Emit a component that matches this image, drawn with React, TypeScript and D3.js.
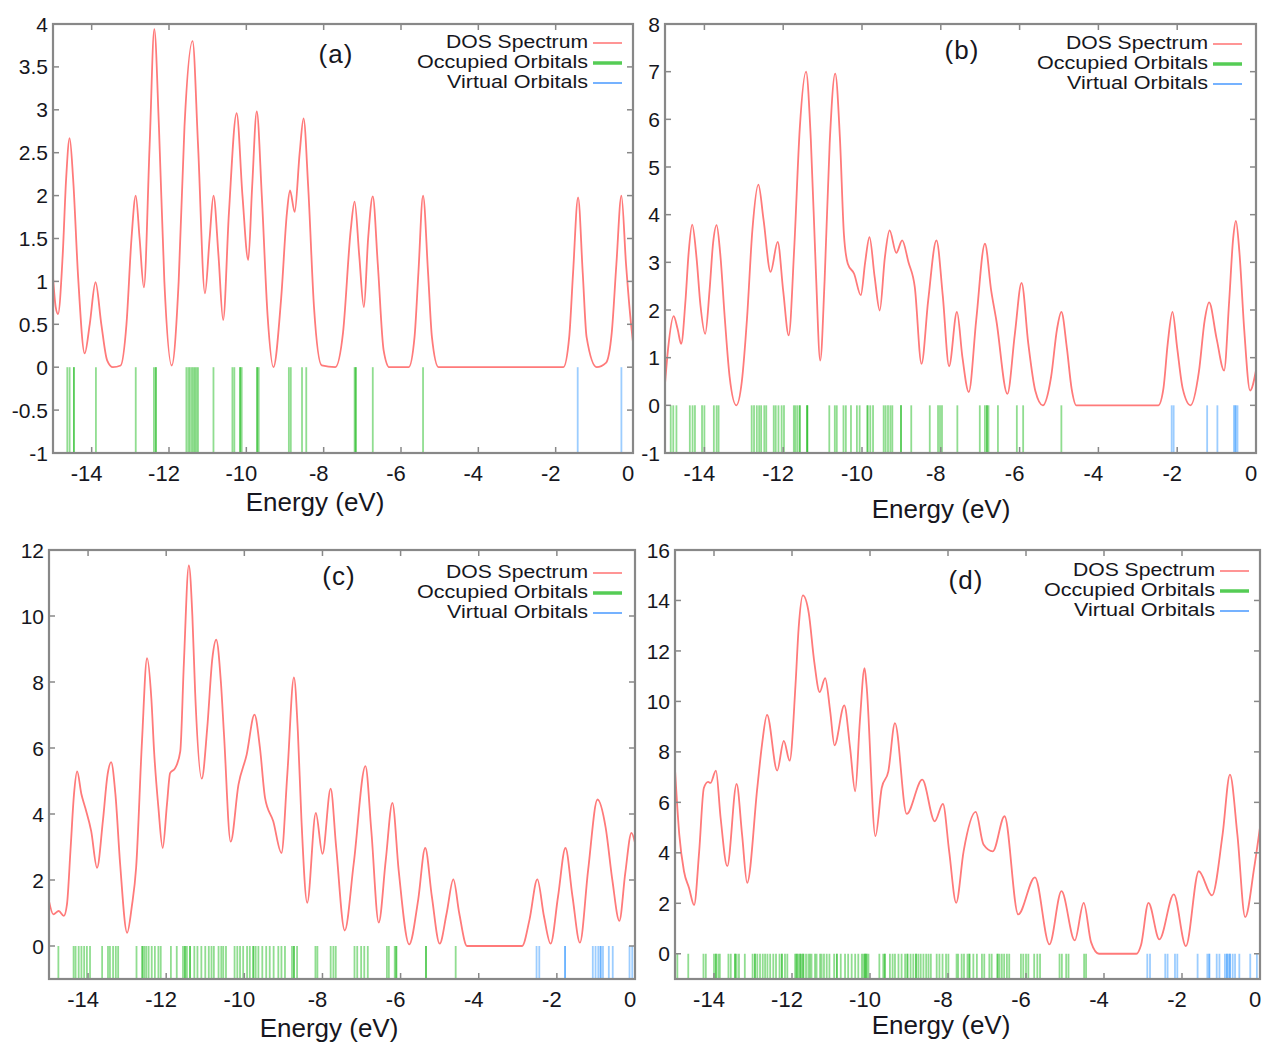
import React from "react";
import * as d3 from "d3";

// x ticks shared by every panel
const xTicks = [-14, -12, -10, -8, -6, -4, -2, 0];

// ---- panel (a)
const yTicksA = [-1, -0.5, 0, 0.5, 1, 1.5, 2, 2.5, 3, 3.5, 4];
const dosA = [
  [-15.0, 1.05], [-14.93, 0.7], [-14.87, 0.62], [-14.75, 1.3], [-14.66, 2.2], [-14.57, 2.67],
  [-14.48, 2.2], [-14.35, 1.05], [-14.18, 0.16], [-14.05, 0.5], [-13.9, 0.99], [-13.75, 0.5],
  [-13.6, 0.08], [-13.45, 0], [-13.25, 0.02], [-13.1, 0.5], [-12.97, 1.5], [-12.86, 2.0],
  [-12.76, 1.5], [-12.65, 0.93], [-12.5, 2.6], [-12.38, 3.94], [-12.26, 2.8], [-12.12, 1.0],
  [-11.93, 0.02], [-11.75, 1.0], [-11.6, 2.8], [-11.39, 3.8], [-11.25, 2.6], [-11.07, 0.86],
  [-10.95, 1.5], [-10.85, 2.0], [-10.72, 1.3], [-10.6, 0.55], [-10.45, 1.8], [-10.25, 2.96],
  [-10.1, 2.0], [-9.95, 1.25], [-9.85, 2.1], [-9.73, 2.98], [-9.6, 2.0], [-9.45, 0.6],
  [-9.3, 0.0], [-9.1, 0.8], [-8.95, 1.8], [-8.87, 2.06], [-8.75, 1.81], [-8.62, 2.5],
  [-8.52, 2.9], [-8.4, 2.1], [-8.25, 0.7], [-8.05, 0.02], [-7.7, 0], [-7.5, 0.4],
  [-7.3, 1.6], [-7.2, 1.93], [-7.08, 1.3], [-6.96, 0.7], [-6.85, 1.5], [-6.73, 1.99],
  [-6.6, 1.2], [-6.45, 0.2], [-6.3, 0], [-5.8, 0], [-5.65, 0.35], [-5.55, 1.1],
  [-5.43, 2.0], [-5.3, 1.1], [-5.2, 0.35], [-5.03, 0], [-1.8, 0], [-1.65, 0.35],
  [-1.55, 1.1], [-1.42, 1.98], [-1.3, 1.1], [-1.2, 0.35], [-0.94, 0], [-0.7, 0.05],
  [-0.55, 0.4], [-0.43, 1.2], [-0.3, 2.0], [-0.18, 1.2], [-0.05, 0.5], [0, 0.29],
];
const occA = [
  -14.63, -14.57, -14.46, -14.46, -13.89, -12.86, -12.39, -12.34, -12.34,
  -11.55, -11.5, -11.46, -11.41, -11.37, -11.33, -11.29, -11.25, -10.85,
  -10.36, -10.31, -10.16, -10.16, -10.12, -9.72, -9.72, -9.68, -8.9, -8.85,
  -8.56, -8.45, -7.2, -7.17, -7.17, -6.73, -5.43,
];
const virA = [-1.43, -0.3];

// ---- panel (b)
const yTicksB = [-1, 0, 1, 2, 3, 4, 5, 6, 7, 8];
const dosB = [
  [-15.0, 0.45], [-14.92, 1.2], [-14.78, 1.87], [-14.68, 1.6], [-14.59, 1.29], [-14.48, 2.2],
  [-14.4, 3.2], [-14.31, 3.79], [-14.2, 3.1], [-14.1, 2.1], [-13.98, 1.5], [-13.87, 2.4],
  [-13.78, 3.4], [-13.69, 3.78], [-13.6, 3.2], [-13.48, 1.8], [-13.36, 0.6], [-13.19, 0.0],
  [-13.05, 0.5], [-12.92, 1.8], [-12.78, 3.7], [-12.63, 4.63], [-12.5, 3.9], [-12.32, 2.8],
  [-12.14, 3.43], [-12.0, 2.4], [-11.86, 1.47], [-11.72, 3.3], [-11.58, 5.8], [-11.42, 7.0],
  [-11.3, 5.6], [-11.17, 2.8], [-11.06, 0.94], [-10.95, 2.6], [-10.82, 5.5], [-10.68, 6.96],
  [-10.56, 5.6], [-10.46, 3.6], [-10.36, 2.97], [-10.2, 2.76], [-10.03, 2.31], [-9.92, 3.0],
  [-9.81, 3.53], [-9.68, 2.7], [-9.55, 1.99], [-9.42, 3.1], [-9.3, 3.67], [-9.13, 3.2],
  [-8.98, 3.46], [-8.82, 3.0], [-8.66, 2.48], [-8.49, 0.87], [-8.32, 2.2], [-8.11, 3.46],
  [-7.95, 2.3], [-7.79, 0.82], [-7.59, 1.96], [-7.45, 1.0], [-7.29, 0.28], [-7.1, 1.8],
  [-6.88, 3.39], [-6.72, 2.4], [-6.59, 1.78], [-6.31, 0.24], [-6.12, 1.5], [-5.95, 2.57],
  [-5.78, 1.3], [-5.6, 0.3], [-5.41, 0.0], [-5.2, 0.6], [-5.05, 1.6], [-4.94, 1.96],
  [-4.8, 1.2], [-4.68, 0.35], [-4.56, 0], [-2.48, 0], [-2.35, 0.35], [-2.24, 1.3],
  [-2.12, 1.96], [-2.0, 1.2], [-1.86, 0.35], [-1.66, 0], [-1.45, 0.7], [-1.3, 1.8],
  [-1.19, 2.16], [-1.0, 1.4], [-0.81, 0.73], [-0.68, 2.2], [-0.58, 3.5], [-0.51, 3.87],
  [-0.42, 3.2], [-0.3, 1.6], [-0.15, 0.31], [0, 0.73],
];
const occB = [
  -14.855, -14.79, -14.71, -14.37, -14.3, -14.24, -14.06, -14.0, -13.76, -13.69, -13.64,
  -12.8, -12.74, -12.67, -12.61, -12.56, -12.48, -12.43, -12.24, -12.19, -12.12, -12.04,
  -11.98, -11.73, -11.69, -11.64, -11.58, -11.58, -11.39, -11.39, -11.39, -10.83, -10.69,
  -10.64, -10.47, -10.41, -10.28, -10.13, -10.06, -9.86, -9.86, -9.79, -9.72, -9.45, -9.4,
  -9.34, -9.28, -9.23, -9.01, -9.01, -8.75, -8.28, -8.07, -8.02, -7.97, -7.58, -7.01,
  -6.88, -6.83, -6.83, -6.79, -6.55, -6.07, -5.91, -4.94,
];
const virB = [-2.14, -2.09, -1.24, -0.98, -0.56, -0.52, -0.52, -0.47];

// ---- panel (c)
const yTicksC = [0, 2, 4, 6, 8, 10, 12];
const dosC = [
  [-15.0, 1.36], [-14.89, 0.96], [-14.75, 1.06], [-14.62, 0.91], [-14.54, 1.26], [-14.45, 2.9],
  [-14.36, 4.6], [-14.28, 5.29], [-14.17, 4.6], [-14.07, 4.18], [-13.92, 3.48], [-13.77, 2.37],
  [-13.62, 3.8], [-13.5, 5.2], [-13.41, 5.57], [-13.3, 4.6], [-13.18, 2.5], [-13.0, 0.4],
  [-12.88, 1.2], [-12.77, 2.37], [-12.62, 6.2], [-12.49, 8.72], [-12.38, 7.5], [-12.31, 5.9],
  [-12.2, 4.2], [-12.09, 2.97], [-11.98, 4.3], [-11.9, 5.24], [-11.77, 5.39], [-11.64, 5.9],
  [-11.55, 8.5], [-11.42, 11.53], [-11.33, 10.0], [-11.26, 7.71], [-11.09, 5.07], [-10.95, 6.6],
  [-10.82, 8.7], [-10.72, 9.28], [-10.6, 8.0], [-10.52, 6.4], [-10.35, 3.16], [-10.15, 4.89],
  [-9.94, 5.8], [-9.74, 7.01], [-9.6, 6.0], [-9.47, 4.49], [-9.26, 3.78], [-9.05, 2.82],
  [-8.9, 5.2], [-8.73, 8.14], [-8.63, 6.5], [-8.54, 3.88], [-8.39, 1.31], [-8.17, 4.03],
  [-8.0, 2.79], [-7.79, 4.77], [-7.65, 3.0], [-7.43, 0.47], [-7.2, 2.5], [-6.9, 5.45],
  [-6.75, 3.5], [-6.56, 0.71], [-6.38, 2.6], [-6.21, 4.34], [-6.05, 2.3], [-5.78, 0.05],
  [-5.55, 1.4], [-5.37, 2.97], [-5.2, 1.5], [-5.0, 0.07], [-4.82, 1.0], [-4.65, 2.02],
  [-4.5, 1.0], [-4.3, 0], [-2.89, 0], [-2.7, 0.8], [-2.5, 2.02], [-2.33, 0.9],
  [-2.16, 0.07], [-1.97, 1.5], [-1.78, 2.97], [-1.6, 1.5], [-1.41, 0.1], [-1.2, 2.3],
  [-0.96, 4.44], [-0.75, 3.58], [-0.58, 2.0], [-0.4, 0.76], [-0.25, 2.2], [-0.09, 3.43],
  [0, 3.13],
];
const occC = [
  -14.76, -14.37, -14.32, -14.24, -14.17, -14.1, -14.03, -13.95, -13.64, -13.49, -13.44,
  -13.36, -13.29, -13.23, -12.76, -12.61, -12.61, -12.56, -12.51, -12.45, -12.37, -12.29,
  -12.2, -12.14, -11.88, -11.73, -11.57, -11.52, -11.52, -11.47, -11.39, -11.39, -11.28,
  -11.2, -11.1, -11.0, -10.91, -10.84, -10.78, -10.66, -10.59, -10.54, -10.47, -10.25,
  -10.18, -10.11, -10.03, -9.93, -9.86, -9.77, -9.77, -9.71, -9.64, -9.54, -9.44, -9.35,
  -9.25, -9.13, -9.05, -8.96, -8.78, -8.73, -8.73, -8.65, -8.18, -8.13, -7.79, -7.72,
  -7.66, -7.18, -7.11, -7.01, -6.93, -6.84, -6.35, -6.3, -6.15, -6.11, -6.11, -5.35,
  -5.35, -4.59,
];
const virC = [
  -2.52, -2.45, -1.79, -1.79, -1.08, -1.01, -0.94, -0.88, -0.88, -0.82, -0.67, -0.57,
  -0.14, -0.07,
];

// ---- panel (d)
const yTicksD = [0, 2, 4, 6, 8, 10, 12, 14, 16];
const dosD = [
  [-15.0, 7.3], [-14.89, 4.72], [-14.77, 3.27], [-14.64, 2.61], [-14.51, 1.93], [-14.38, 4.06],
  [-14.26, 6.57], [-14.15, 6.81], [-14.09, 6.77], [-13.95, 7.26], [-13.83, 5.38], [-13.66, 3.47],
  [-13.42, 6.73], [-13.28, 4.72], [-13.15, 2.81], [-12.89, 6.57], [-12.77, 8.28], [-12.64, 9.47],
  [-12.38, 7.26], [-12.21, 8.44], [-12.06, 7.65], [-11.91, 10.66], [-11.83, 12.9], [-11.72, 14.2],
  [-11.57, 13.5], [-11.43, 11.58], [-11.29, 10.37], [-11.15, 10.92], [-11.02, 9.6], [-10.91, 8.26],
  [-10.66, 9.84], [-10.51, 8.15], [-10.38, 6.44], [-10.26, 9.21], [-10.14, 11.32], [-10.09, 10.66],
  [-9.86, 4.66], [-9.7, 6.57], [-9.53, 7.23], [-9.36, 9.14], [-9.06, 5.54], [-8.66, 6.9],
  [-8.34, 5.25], [-8.13, 5.94], [-7.97, 4.06], [-7.79, 2.02], [-7.6, 4.06], [-7.29, 5.62],
  [-7.09, 4.33], [-6.85, 4.06], [-6.55, 5.45], [-6.2, 1.56], [-5.77, 3.03], [-5.4, 0.37],
  [-5.09, 2.48], [-4.75, 0.53], [-4.52, 2.02], [-4.33, 0.45], [-4.13, 0], [-3.17, 0],
  [-3.05, 0.35], [-2.86, 2.02], [-2.58, 0.57], [-2.21, 2.35], [-1.9, 0.3], [-1.57, 3.27],
  [-1.23, 2.31], [-0.96, 4.72], [-0.77, 7.1], [-0.58, 4.72], [-0.38, 1.45], [-0.15, 3.4],
  [0, 5.01],
];
const occD = [
  -14.94, -14.66, -14.27, -14.21, -14.0, -13.95, -13.95, -13.89, -13.85, -13.63, -13.57,
  -13.46, -13.46, -13.42, -13.36, -13.21, -13.01, -12.95, -12.95, -12.89, -12.82, -12.75,
  -12.69, -12.63, -12.56, -12.48, -12.41, -12.32, -12.26, -12.26, -12.18, -12.12, -11.92,
  -11.88, -11.88, -11.84, -11.79, -11.79, -11.75, -11.71, -11.71, -11.64, -11.58, -11.54,
  -11.5, -11.41, -11.37, -11.28, -11.24, -11.18, -11.11, -11.04, -10.92, -10.85, -10.85,
  -10.75, -10.64, -10.56, -10.47, -10.38, -10.3, -10.21, -10.17, -10.13, -10.13, -10.09,
  -10.09, -10.04, -9.76, -9.66, -9.62, -9.62, -9.49, -9.42, -9.36, -9.27, -9.19, -9.1,
  -9.04, -9.04, -8.96, -8.89, -8.82, -8.82, -8.76, -8.7, -8.63, -8.56, -8.5, -8.44, -8.29,
  -8.22, -8.14, -8.05, -7.99, -7.78, -7.74, -7.65, -7.59, -7.5, -7.45, -7.45, -7.35,
  -7.26, -7.13, -7.07, -6.94, -6.88, -6.73, -6.73, -6.68, -6.62, -6.56, -6.49, -6.43,
  -6.13, -6.07, -6.0, -5.94, -5.79, -5.71, -5.64, -5.14, -5.08, -4.97, -4.91, -4.51, -4.46,
];
const virD = [
  -2.89, -2.82, -2.43, -2.37, -2.18, -2.12, -1.6, -1.35, -1.3, -1.3, -1.11, -1.04, -0.9,
  -0.85, -0.85, -0.81, -0.77, -0.77, -0.7, -0.64, -0.53, -0.25, -0.08,
];

const legendLabels = ["DOS Spectrum", "Occupied Orbitals", "Virtual Orbitals"];
const legendTextWidths = [142, 171, 141];

const FONT = "'Liberation Sans', Arial, sans-serif";
const RED = "#ff7a7a";
const GREEN = "#22bb22";
const BLUE = "#3a9cff";
const FRAME = "#888888";
const TEXT = "#161620";

const panels = [
  {
    key: "a", dos: dosA, occ: occA, vir: virA, yDomain: [-1, 4], yTicks: yTicksA, yLabels: yTicksA,
    box: { left: 53, right: 633, top: 24, bottom: 453 },
    tag: { x: 336, y: 63 }, legend: { x: 588, y: 42 }, title: { x: 315, y: 511 },
  },
  {
    key: "b", dos: dosB, occ: occB, vir: virB, yDomain: [-1, 8], yTicks: yTicksB, yLabels: yTicksB,
    box: { left: 665, right: 1256, top: 24, bottom: 453 },
    tag: { x: 962, y: 59 }, legend: { x: 1208, y: 43 }, title: { x: 941, y: 518 },
  },
  {
    key: "c", dos: dosC, occ: occC, vir: virC, yDomain: [-1, 12], yTicks: yTicksC, yLabels: yTicksC,
    box: { left: 49, right: 635, top: 550, bottom: 979 },
    tag: { x: 339, y: 585 }, legend: { x: 588, y: 572 }, title: { x: 329, y: 1037 },
  },
  {
    key: "d", dos: dosD, occ: occD, vir: virD, yDomain: [-1, 16], yTicks: yTicksD, yLabels: yTicksD,
    box: { left: 675, right: 1260, top: 550, bottom: 979 },
    tag: { x: 966, y: 589 }, legend: { x: 1215, y: 570 }, title: { x: 941, y: 1034 },
  },
];

function Panel({ p }) {
  const { box } = p;
  const x = d3.scaleLinear().domain([-15, 0]).range([box.left, box.right]);
  const y = d3.scaleLinear().domain(p.yDomain).range([box.bottom, box.top]);
  const line = d3
    .line()
    .x((d) => x(d[0]))
    .y((d) => y(d[1]))
    .curve(d3.curveMonotoneX);
  const tick = 6;
  const legendColors = [RED, "#55cc55", "#66aaff"];
  const legendWidths = [1.6, 3.5, 1.8];

  return (
    <g>
      {/* orbital sticks */}
      {p.occ.map((e, i) => (
        <line key={"o" + i} x1={x(e)} x2={x(e)} y1={y(0)} y2={y(-1)}
          stroke={GREEN} strokeOpacity={0.5} strokeWidth={1.8} />
      ))}
      {p.vir.map((e, i) => (
        <line key={"v" + i} x1={x(e)} x2={x(e)} y1={y(0)} y2={y(-1)}
          stroke={BLUE} strokeOpacity={0.5} strokeWidth={1.8} />
      ))}

      {/* DOS curve */}
      <path d={line(p.dos)} fill="none" stroke={RED} strokeWidth={1.8} strokeLinejoin="round" />

      {/* frame and inward ticks */}
      <rect x={box.left} y={box.top} width={box.right - box.left} height={box.bottom - box.top}
        fill="none" stroke={FRAME} strokeWidth={2.2} />
      {xTicks.map((t) => (
        <g key={"xt" + t}>
          <line x1={x(t)} x2={x(t)} y1={box.bottom} y2={box.bottom - tick} stroke={FRAME} strokeWidth={1.5} />
          <line x1={x(t)} x2={x(t)} y1={box.top} y2={box.top + tick} stroke={FRAME} strokeWidth={1.5} />
          <text x={x(t) - 5} y={box.bottom + 28} textAnchor="middle" fontSize={22}
            fontFamily={FONT} fill={TEXT}>{String(t)}</text>
        </g>
      ))}
      {p.yTicks.map((t) => (
        <g key={"yt" + t}>
          <line x1={box.left} x2={box.left + tick} y1={y(t)} y2={y(t)} stroke={FRAME} strokeWidth={1.5} />
          <line x1={box.right} x2={box.right - tick} y1={y(t)} y2={y(t)} stroke={FRAME} strokeWidth={1.5} />
        </g>
      ))}
      {p.yLabels.map((t) => (
        <text key={"yl" + t} x={box.left - 5} y={y(t)} dy="0.36em" textAnchor="end" fontSize={21}
          fontFamily={FONT} fill={TEXT}>{String(t)}</text>
      ))}

      {/* axis title */}
      <text x={p.title.x} y={p.title.y} textAnchor="middle" fontSize={26} fontFamily={FONT} fill={TEXT}>
        Energy (eV)
      </text>

      {/* panel tag */}
      <text x={p.tag.x} y={p.tag.y} textAnchor="middle" fontSize={26} letterSpacing={1}
        fontFamily={FONT} fill={TEXT}>
        ({p.key})
      </text>

      {/* legend */}
      {legendLabels.map((l, i) => (
        <g key={l}>
          <text x={p.legend.x - legendTextWidths[i]} y={p.legend.y + i * 20} dy="0.36em" fontSize={17.5}
            textLength={legendTextWidths[i]} lengthAdjust="spacingAndGlyphs"
            fontFamily={FONT} fill={TEXT}>{l}</text>
          <line x1={p.legend.x + 5} x2={p.legend.x + 34} y1={p.legend.y + i * 20 + 1} y2={p.legend.y + i * 20 + 1}
            stroke={legendColors[i]} strokeWidth={legendWidths[i]} />
        </g>
      ))}
    </g>
  );
}

export default function App() {
  return (
    <svg width={1267} height={1043} style={{ position: "absolute", left: 0, top: 0, background: "#fff" }}>
      {panels.map((p) => (
        <Panel key={p.key} p={p} />
      ))}
    </svg>
  );
}
